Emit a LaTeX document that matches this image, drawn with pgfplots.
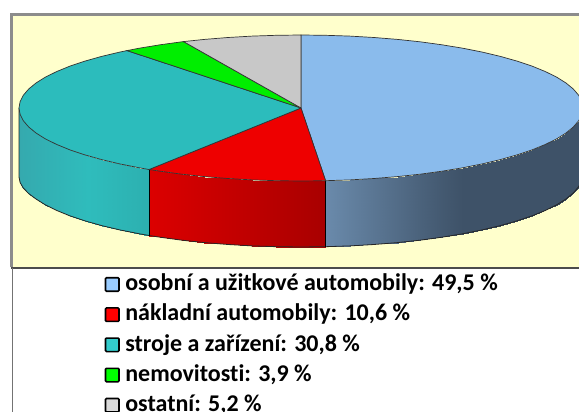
\documentclass[border=0pt]{standalone}
\usepackage{fontspec}
\setmainfont[Ligatures=NoCommon]{Carlito}
\usepackage{pgfplots}
\pgfplotsset{compat=1.18}
\definecolor{frameyellow}{HTML}{FFFFCC}
\definecolor{framegray}{HTML}{8C8C8C}
\definecolor{topblue}{HTML}{8ABBEC}
\definecolor{topred}{HTML}{EE0000}
\definecolor{topteal}{HTML}{2CBCBC}
\definecolor{topgreen}{HTML}{00EE00}
\definecolor{topgray}{HTML}{C8C8C8}
\definecolor{legblue}{HTML}{99CCFF}
\definecolor{legred}{HTML}{FF0000}
\definecolor{legteal}{HTML}{33CCCC}
\definecolor{leggreen}{HTML}{00FF00}
\definecolor{leggray}{HTML}{D9D9D9}
\pgfplotsset{
  colormap={blueside}{rgb255=(62,82,104) rgb255=(106,138,171)},
  colormap={redside}{rgb255=(168,0,0) rgb255=(220,0,0)},
  colormap={tealside}{rgb255=(44,176,176) rgb255=(47,188,188) rgb255=(53,169,174)},
  legsquare/.style={legend image code/.code={
    \draw[##1,rounded corners=1pt,line width=1.6pt] (0pt,-6pt) rectangle (13.5pt,7.5pt);}},
}
\begin{document}
\begin{tikzpicture}
\useasboundingbox (0,0) rectangle (579pt,412pt);
\begin{axis}[
  scale only axis,
  width=579pt,
  height=412pt,
  xmin=0, xmax=579,
  ymin=0, ymax=412,
  y dir=reverse,
  hide axis,
  point meta min=0,
  point meta max=1,
  legend style={at={(axis cs:104.5,272.5)}, anchor=north west, draw=none, fill=none,
    font=\fontsize{24}{28}\selectfont\bfseries, row sep=5.2pt, inner sep=0pt,
    nodes={text height=16pt, text depth=5pt},
    /tikz/every odd column/.append style={column sep=3.5pt}},
  legend cell align=left,
]
% frame
\addplot[forget plot, fill=frameyellow, draw=framegray, line width=3pt] coordinates {
  (11.5,267) (11.5,15) (600,15) (600,267)};
\addplot[forget plot, draw=black!70, line width=2pt] coordinates {(11,267.5) (579,267.5)};
\addplot[forget plot, draw=black!55, line width=1pt] coordinates {(12,268) (12,412)};

% side walls
\addplot[forget plot, surf, shader=interp, colormap name=blueside, point meta=explicit, mesh/rows=18, mesh/cols=2]
  table[meta=c, row sep=\\] {
  x y c \\
  325.6 180.7 1 \\ 325.6 246.7 1 \\
  349.9 179.9 .82 \\ 349.9 245.9 .82 \\
  374 178.5 .64 \\ 374 244.5 .64 \\
  397.5 176.6 .46 \\ 397.5 242.6 .46 \\
  420.1 174.2 .29 \\ 420.1 240.2 .29 \\
  442 171.2 .13 \\ 442 237.2 .13 \\
  462.7 167.8 0 \\ 462.7 233.8 0 \\
  482.3 163.9 0 \\ 482.3 229.9 0 \\
  500.4 159.6 0 \\ 500.4 225.6 0 \\
  517 154.9 0 \\ 517 220.9 0 \\
  532 149.9 0 \\ 532 215.9 0 \\
  545.2 144.5 0 \\ 545.2 210.5 0 \\
  556.6 138.9 0 \\ 556.6 204.9 0 \\
  566 133 0 \\ 566 199 0 \\
  573.4 126.9 0 \\ 573.4 192.9 0 \\
  578.7 120.7 0 \\ 578.7 186.7 0 \\
  581.9 114.4 0 \\ 581.9 180.4 0 \\
  583 108 0 \\ 583 174 0 \\
};
\addplot[forget plot, surf, shader=interp, colormap name=redside, point meta=explicit, mesh/rows=9, mesh/cols=2]
  table[meta=c, row sep=\\] {
  x y c \\
  325.6 180.7 0 \\ 325.6 246.7 0 \\
  301 181 .14 \\ 301 247 .14 \\
  276.4 180.7 .28 \\ 276.4 246.7 .28 \\
  252.1 179.9 .42 \\ 252.1 245.9 .42 \\
  228 178.5 .55 \\ 228 244.5 .55 \\
  204.5 176.6 .68 \\ 204.5 242.6 .68 \\
  181.9 174.2 .81 \\ 181.9 240.2 .81 \\
  160 171.2 .93 \\ 160 237.2 .93 \\
  149 169.5 1 \\ 149 235.5 1 \\
};
\addplot[forget plot, surf, shader=interp, colormap name=tealside, point meta=explicit, mesh/rows=13, mesh/cols=2]
  table[meta=c, row sep=\\] {
  x y c \\
  149 169.5 0 \\ 149 235.5 0 \\
  139.3 167.8 .08 \\ 139.3 233.8 .08 \\
  119.7 163.9 .24 \\ 119.7 229.9 .24 \\
  101.6 159.6 .4 \\ 101.6 225.6 .4 \\
  85 154.9 .52 \\ 85 220.9 .52 \\
  70 149.9 .62 \\ 70 215.9 .62 \\
  56.8 144.5 .72 \\ 56.8 210.5 .72 \\
  45.4 138.9 .8 \\ 45.4 204.9 .8 \\
  36 133 .87 \\ 36 199 .87 \\
  28.6 126.9 .92 \\ 28.6 193.5 .92 \\
  23.3 120.7 .96 \\ 23.3 188 .96 \\
  20.1 114.4 .99 \\ 20.1 182.5 .99 \\
  19 108 1 \\ 19 177 1 \\
};
% outline of the walls
\addplot[forget plot, draw=black!85, line width=.8pt] coordinates {
  (19,108) (19,177) (20.1,182.5) (23.3,188) (28.6,193.5) (36,199) (45.4,204.9) (56.8,210.5)
  (70,215.9) (85,220.9) (101.6,225.6) (119.7,229.9) (139.3,233.8) (149,235.5) (160,237.2)
  (181.9,240.2) (204.5,242.6) (228,244.5) (252.1,245.9) (276.4,246.7) (301,247) (325.6,246.7)
  (349.9,245.9) (374,244.5) (397.5,242.6) (420.1,240.2) (442,237.2) (462.7,233.8) (482.3,229.9)
  (500.4,225.6) (517,220.9) (532,215.9) (545.2,210.5) (556.6,204.9) (566,199) (573.4,192.9)
  (578.7,186.7) (581.9,180.4) (583,174)};
\addplot[forget plot, draw=black, line width=.8pt] coordinates {(149,169.5) (149,235.5)};
\addplot[forget plot, draw=black, line width=.8pt] coordinates {(325.6,180.7) (325.6,246.7)};

% top of the pie
\addplot[forget plot, fill=topblue, draw=black!80, line width=.7pt] coordinates {
  (301,108) (301,35) (325.6,35.3) (349.9,36.1) (374,37.5) (397.5,39.4) (420.1,41.8) (442,44.8)
  (462.7,48.2) (482.3,52.1) (500.4,56.4) (517,61.1) (532,66.1) (545.2,71.5) (556.6,77.1)
  (566,83) (573.4,89.1) (578.7,95.3) (581.9,101.6) (583,108) (581.9,114.4) (578.7,120.7)
  (573.4,126.9) (566,133) (556.6,138.9) (545.2,144.5) (532,149.9) (517,154.9) (500.4,159.6)
  (482.3,163.9) (462.7,167.8) (442,171.2) (420.1,174.2) (397.5,176.6) (374,178.5) (349.9,179.9)
  (325.6,180.7) (301,108)};
\addplot[forget plot, fill=topred, draw=black!80, line width=.7pt] coordinates {
  (301,108) (325.6,180.7) (301,181) (276.4,180.7) (252.1,179.9) (228,178.5) (204.5,176.6)
  (181.9,174.2) (160,171.2) (149,169.5) (301,108)};
\addplot[forget plot, fill=topteal, draw=black!80, line width=.7pt] coordinates {
  (301,108) (149,169.5) (139.3,167.8) (119.7,163.9) (101.6,159.6) (85,154.9) (70,149.9)
  (56.8,144.5) (45.4,138.9) (36,133) (28.6,126.9) (23.3,120.7) (20.1,114.4) (19,108)
  (20.1,101.6) (23.3,95.3) (28.6,89.1) (36,83) (45.4,77.1) (56.8,71.5) (70,66.1) (85,61.1)
  (101.6,56.4) (119.7,52.1) (127,50.6) (301,108)};
\addplot[forget plot, fill=topgreen, draw=black!80, line width=.7pt] coordinates {
  (301,108) (127,50.6) (139.3,48.2) (160,44.8) (181.9,41.8) (183.5,41.6) (301,108)};
\addplot[forget plot, fill=topgray, draw=black!80, line width=.7pt] coordinates {
  (301,108) (183.5,41.6) (204.5,39.4) (228,37.5) (252.1,36.1) (276.4,35.3) (301,35) (301,108)};

% legend
\addlegendimage{legsquare, fill=legblue, draw=black}
\addlegendimage{legsquare, fill=legred, draw=black}
\addlegendimage{legsquare, fill=legteal, draw=black}
\addlegendimage{legsquare, fill=leggreen, draw=black}
\addlegendimage{legsquare, fill=leggray, draw=black}
\legend{{osobní a užitkové automobily: 49,5 \%}, {nákladní automobily: 10,6 \%},
  {stroje a zařízení: 30,8 \%}, {nemovitosti: 3,9 \%}, {ostatní: 5,2 \%}}
\end{axis}
\end{tikzpicture}
\end{document}
